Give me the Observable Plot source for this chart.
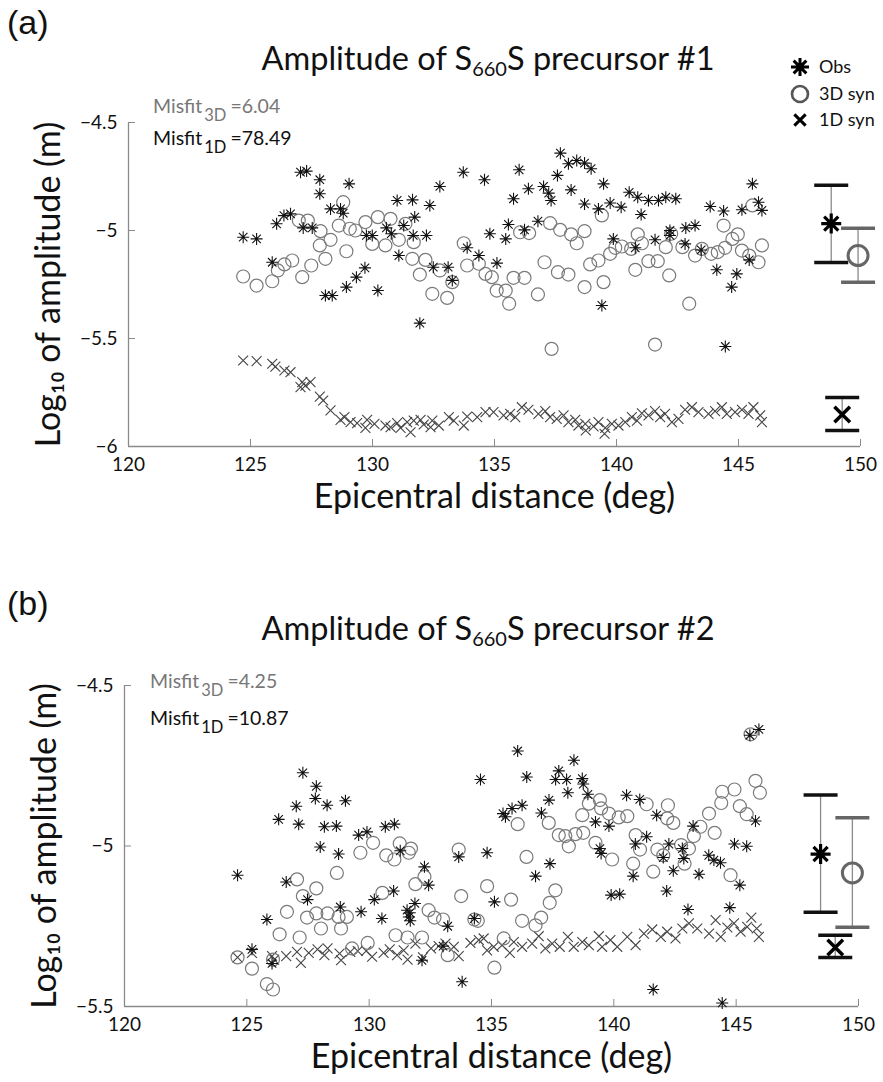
<!DOCTYPE html>
<html><head><meta charset="utf-8">
<script src="https://cdn.jsdelivr.net/npm/d3@7"></script>
<script src="https://cdn.jsdelivr.net/npm/@observablehq/plot@0.6"></script>
<style>
body{margin:0;background:#fff;font-family:Lato,"Open Sans",sans-serif}
#wrap{position:relative;width:883px;height:1082px;overflow:hidden;background:#fff}
#wrap svg{position:absolute;left:0}
</style></head><body><div id="wrap"></div>
<script>
// ---------- Panel (a): precursor #1 ----------
const aObs = [[124.70,-5.031],[125.25,-5.039],[125.89,-5.147],[126.07,-4.969],[126.37,-4.931],[126.64,-4.923],[127.05,-4.730],[127.30,-4.725],[127.84,-4.765],[127.84,-4.830],[127.16,-4.988],[127.53,-4.988],[128.28,-4.900],[128.69,-4.900],[128.80,-4.920],[128.07,-5.301],[128.35,-5.301],[128.93,-5.262],[129.34,-5.216],[129.69,-5.173],[129.04,-4.784],[129.75,-5.023],[129.99,-5.023],[130.22,-5.278],[130.57,-4.988],[130.77,-5.015],[131.01,-4.861],[131.64,-4.858],[131.28,-4.977],[131.73,-4.938],[131.67,-5.023],[132.21,-5.023],[132.35,-4.884],[132.76,-4.796],[131.08,-5.116],[131.94,-5.429],[132.49,-5.170],[133.10,-5.170],[133.27,-5.231],[133.72,-4.730],[133.88,-5.080],[134.36,-5.116],[134.59,-4.765],[134.81,-5.015],
[135.46,-5.039],[135.57,-4.972],[135.10,-5.151],[135.78,-4.853],[136.01,-4.719],[136.23,-4.997],[136.39,-4.807],[136.78,-4.957],[137.01,-4.796],[137.22,-4.827],[137.32,-4.861],[137.58,-4.745],[137.70,-4.642],[138.03,-4.691],[138.37,-4.676],[138.69,-4.688],[138.96,-4.714],[138.14,-4.812],[138.69,-4.877],[139.26,-4.900],[139.47,-4.784],[139.74,-4.873],[140.19,-4.892],[140.52,-4.823],[140.87,-4.846],[141.31,-4.861],[141.72,-4.861],[142.02,-4.846],[142.43,-4.853],[141.01,-4.926],[139.87,-5.039],[139.40,-5.347],[140.77,-5.080],[141.58,-5.043],[142.19,-5.000],[142.19,-5.023],[142.84,-4.988],[143.22,-4.977],[142.81,-5.062],[143.47,-5.090],[143.84,-4.889],[144.39,-4.910],[145.14,-4.904],[145.57,-4.784],[145.82,-4.869],[145.96,-4.907],[144.11,-5.182],[144.72,-5.262],[144.93,-5.201],[145.44,-5.136],[144.46,-5.537]];
const aSyn3D = [[124.70,-5.213],[125.25,-5.255],[125.89,-5.235],[126.12,-5.185],[126.39,-5.157],[126.71,-5.139],[127.12,-5.216],[127.49,-5.162],[128.07,-5.131],[127.84,-5.069],[128.28,-5.043],[128.93,-5.096],[126.98,-4.954],[127.35,-4.954],[127.87,-5.003],[128.62,-4.977],[128.80,-4.869],[129.07,-4.992],[129.30,-5.000],[129.71,-4.961],[129.99,-5.062],[130.22,-4.938],[130.74,-4.946],[130.53,-5.069],[131.08,-5.043],[131.35,-4.969],[131.69,-5.054],[131.63,-5.131],[132.17,-5.136],[131.94,-5.204],[132.45,-5.293],[132.76,-5.185],[133.06,-5.312],[133.27,-5.239],[133.74,-5.059],[133.88,-5.162],[134.36,-5.154],[134.63,-5.201],
[134.89,-5.216],[135.09,-5.278],[135.46,-5.278],[135.60,-5.339],[135.78,-5.219],[136.23,-5.219],[136.05,-5.008],[136.42,-5.012],[136.78,-5.296],[137.05,-5.147],[137.28,-4.966],[137.60,-5.193],[137.69,-4.997],[138.03,-5.204],[138.14,-5.018],[138.37,-5.059],[138.69,-5.003],[138.69,-5.262],[138.92,-5.157],[139.26,-5.139],[139.40,-4.930],[139.47,-5.239],[139.74,-5.108],[139.95,-5.080],[140.22,-5.074],[140.60,-5.085],[140.77,-5.182],[140.87,-5.018],[141.04,-5.059],[141.31,-5.142],[141.69,-5.142],[142.02,-5.077],[142.16,-5.208],[142.24,-5.015],[142.70,-5.077],[142.98,-5.339],[143.22,-5.116],[143.50,-5.085],[143.88,-5.108],[144.15,-5.100],[144.39,-4.977],[144.45,-5.080],[144.75,-5.039],[144.97,-5.018],[145.14,-5.093],[145.44,-5.116],[145.57,-4.884],[145.82,-5.147],[145.96,-5.069],[137.34,-5.548],[141.58,-5.528]];
const aSyn1D = [[124.70,-5.602],[125.25,-5.605],[125.89,-5.617],[126.02,-5.630],[126.39,-5.648],[126.64,-5.656],[127.12,-5.702],[127.25,-5.718],[127.46,-5.702],[127.05,-5.725],[127.84,-5.769],[127.98,-5.787],[128.28,-5.833],[128.69,-5.877],[128.85,-5.864],[129.10,-5.887],[129.37,-5.892],[129.78,-5.877],[129.71,-5.914],[130.08,-5.895],[130.53,-5.903],[130.74,-5.911],[131.01,-5.892],[131.15,-5.914],[131.42,-5.887],[131.56,-5.934],[131.69,-5.880],[131.97,-5.877],[132.10,-5.898],[132.45,-5.880],[132.38,-5.911],[132.72,-5.903],[133.13,-5.864],[133.33,-5.880],[133.74,-5.903],[133.88,-5.861],[134.29,-5.864],[134.63,-5.841],
[134.96,-5.841],[135.37,-5.856],[135.64,-5.849],[135.85,-5.864],[136.12,-5.818],[136.39,-5.830],[136.80,-5.849],[137.08,-5.836],[137.28,-5.864],[137.55,-5.872],[137.83,-5.856],[138.03,-5.887],[138.31,-5.877],[138.44,-5.903],[138.72,-5.895],[138.74,-5.926],[139.06,-5.907],[139.26,-5.887],[139.54,-5.914],[139.51,-5.941],[139.81,-5.895],[140.08,-5.903],[140.36,-5.887],[140.63,-5.864],[140.84,-5.880],[141.04,-5.846],[141.31,-5.856],[141.58,-5.836],[141.79,-5.864],[141.99,-5.849],[142.27,-5.887],[142.54,-5.872],[142.81,-5.830],[143.09,-5.818],[143.36,-5.841],[143.77,-5.849],[144.04,-5.836],[144.32,-5.818],[144.52,-5.849],[144.86,-5.841],[145.14,-5.830],[145.41,-5.849],[145.61,-5.818],[145.89,-5.856],[145.96,-5.887]];
// error bars (a): [x, mean, low, high] for Obs, 3D syn, 1D syn
const aErrObs = [148.8, -4.968, -5.148, -4.790];
const aErr3D  = [149.9, -5.116, -5.240, -4.990];
const aErr1D  = [149.25, -5.852, -5.926, -5.773];

// ---------- Panel (b): precursor #2 ----------
const bObs = [[124.62,-5.091],[125.82,-5.229],[125.21,-5.322],[126.03,-5.366],[126.30,-4.917],[126.61,-5.112],[127.02,-4.876],[127.12,-4.932],[127.29,-4.772],[127.48,-5.167],[127.84,-4.814],[127.80,-4.852],[128.00,-5.003],[128.28,-4.873],[128.17,-4.940],[128.66,-4.938],[128.75,-5.025],[128.82,-5.190],[129.03,-4.859],[129.57,-4.966],[129.91,-4.956],[129.67,-5.205],[130.21,-5.167],[130.52,-5.226],[130.66,-4.940],[131.03,-4.932],[131.00,-5.140],[131.27,-5.015],[131.55,-5.200],[131.62,-5.221],[131.66,-5.208],[131.68,-5.233],[131.87,-5.179],[132.16,-5.356],[132.26,-5.065],[132.43,-5.122],[133.21,-5.250],[133.02,-5.312],[133.66,-5.034],[133.80,-5.423],[134.30,-5.226],[134.55,-4.793],[134.82,-5.021],
[135.12,-5.174],[135.47,-4.899],[135.57,-4.909],[135.84,-4.883],[136.25,-4.873],[136.07,-4.704],[136.44,-4.785],[136.80,-5.094],[137.04,-4.897],[137.35,-4.857],[137.39,-5.055],[137.62,-4.793],[137.75,-4.766],[138.07,-4.793],[138.12,-4.834],[138.37,-4.733],[138.71,-4.790],[138.75,-4.807],[138.94,-4.839],[139.25,-4.925],[139.43,-5.008],[139.48,-5.023],[139.80,-4.938],[139.89,-5.153],[140.24,-5.150],[140.52,-4.842],[140.79,-5.094],[141.06,-4.855],[140.88,-4.994],[141.34,-4.971],[141.61,-5.447],[141.75,-4.904],[142.02,-5.036],[142.16,-5.140],[142.25,-4.994],[142.43,-5.077],[142.80,-5.008],[142.86,-5.039],[143.03,-5.198],[143.24,-4.938],[143.48,-5.088],[143.88,-5.029],[144.09,-5.044],[144.36,-5.052],[144.43,-5.489],[144.74,-5.192],[144.93,-4.994],[145.15,-5.122],[145.43,-5.001],[145.56,-4.655],[145.93,-4.637],[145.79,-4.922]];
const bSyn3D = [[124.62,-5.347],[125.21,-5.382],[125.82,-5.430],[126.07,-5.447],[126.07,-5.354],[126.34,-5.275],[126.64,-5.205],[127.05,-5.104],[127.29,-5.156],[127.16,-5.285],[127.46,-5.223],[127.84,-5.132],[127.84,-5.210],[128.03,-5.257],[128.30,-5.210],[128.68,-5.084],[128.85,-5.257],[128.75,-5.221],[129.09,-5.221],[129.30,-5.319],[129.64,-5.021],[130.16,-4.990],[129.94,-5.302],[130.54,-5.146],[130.70,-5.029],[131.03,-5.042],[131.25,-4.992],[131.62,-5.021],[131.71,-5.008],[131.89,-5.119],[132.26,-5.096],[131.08,-5.278],[131.57,-5.285],[132.16,-5.285],[132.43,-5.200],[132.67,-5.223],[133.02,-5.229],[133.21,-5.340],[133.66,-5.011],[133.76,-5.156],[134.30,-5.229],[134.44,-5.233],[134.82,-5.125],
[135.12,-5.379],[135.50,-5.288],[135.80,-5.167],[136.07,-4.932],[136.25,-5.233],[136.43,-5.034],[136.80,-5.247],[137.03,-5.223],[137.34,-4.928],[137.38,-5.177],[137.61,-5.138],[137.75,-4.966],[138.02,-4.969],[138.16,-5.001],[138.43,-4.963],[138.75,-4.959],[138.71,-4.904],[138.98,-4.868],[139.25,-4.990],[139.43,-4.857],[139.48,-4.883],[139.80,-4.899],[139.93,-5.042],[140.20,-4.911],[140.55,-4.907],[140.79,-5.055],[140.89,-4.966],[141.07,-5.011],[141.34,-4.870],[141.61,-5.080],[141.78,-5.011],[142.02,-5.029],[142.21,-4.873],[142.18,-4.914],[142.43,-4.928],[142.75,-4.997],[142.89,-5.055],[143.07,-5.008],[143.27,-4.969],[143.54,-4.940],[143.89,-4.899],[144.12,-4.959],[144.39,-4.866],[144.43,-4.831],[144.77,-5.091],[144.93,-4.824],[145.15,-4.876],[145.43,-4.901],[145.59,-4.652],[145.79,-4.797],[145.97,-4.834]];
const bSyn1D = [[124.62,-5.347],[125.21,-5.333],[126.03,-5.343],[126.12,-5.354],[126.61,-5.343],[127.05,-5.330],[127.21,-5.364],[127.53,-5.333],[127.89,-5.322],[128.17,-5.340],[128.30,-5.319],[128.79,-5.335],[128.85,-5.356],[129.23,-5.330],[129.53,-5.327],[129.88,-5.327],[130.12,-5.345],[130.59,-5.333],[130.84,-5.322],[131.14,-5.340],[131.41,-5.325],[131.57,-5.354],[131.89,-5.304],[132.20,-5.347],[132.53,-5.319],[132.84,-5.312],[133.12,-5.304],[133.46,-5.314],[133.66,-5.343],[134.14,-5.302],[134.48,-5.293],[134.82,-5.325],
[134.68,-5.288],[135.09,-5.314],[135.43,-5.309],[135.75,-5.333],[135.91,-5.299],[136.25,-5.314],[136.66,-5.304],[136.93,-5.281],[137.20,-5.319],[137.48,-5.304],[137.79,-5.314],[138.12,-5.283],[138.36,-5.314],[138.71,-5.299],[138.98,-5.309],[139.39,-5.281],[139.52,-5.314],[139.86,-5.293],[140.14,-5.314],[140.55,-5.283],[140.89,-5.309],[141.23,-5.273],[141.57,-5.260],[141.92,-5.283],[142.18,-5.267],[142.52,-5.288],[142.80,-5.257],[143.07,-5.241],[143.41,-5.257],[143.89,-5.273],[144.16,-5.231],[144.37,-5.283],[144.64,-5.254],[144.91,-5.241],[145.18,-5.267],[145.45,-5.252],[145.62,-5.223],[145.84,-5.257],[145.93,-5.283]];
const bErrObs = [148.45, -5.025, -5.206, -4.841];
const bErr3D  = [149.75, -5.084, -5.253, -4.912];
const bErr1D  = [149.05, -5.316, -5.347, -5.278];

// ---------- labels / ticks ----------
const xTicks = [120, 125, 130, 135, 140, 145, 150];
const aYTicks = [-6, -5.5, -5, -4.5];
const bYTicks = [-5.5, -5, -4.5];
const xLabel = "Epicentral distance (deg)";
const yLabel = "Log\u2081\u2080 of amplitude (m)";
const legendLabels = ["Obs", "3D syn", "1D syn"];
const aMisfit = ["6.04", "78.49"];
const bMisfit = ["4.25", "10.87"];

// ---------- symbols ----------
const star8 = {draw(ctx, size){const r=Math.sqrt(size/Math.PI), d=r*Math.SQRT1_2;
  ctx.moveTo(0,-r);ctx.lineTo(0,r);ctx.moveTo(-r,0);ctx.lineTo(r,0);
  ctx.moveTo(-d,-d);ctx.lineTo(d,d);ctx.moveTo(-d,d);ctx.lineTo(d,-d);}};
const cross = {draw(ctx, size){const r=Math.sqrt(size/Math.PI)*Math.SQRT1_2;
  ctx.moveTo(-r,-r);ctx.lineTo(r,r);ctx.moveTo(-r,r);ctx.lineTo(r,-r);}};
const hbar = {draw(ctx, size){const r=Math.sqrt(size/Math.PI); ctx.moveTo(-r,0);ctx.lineTo(r,0);}};

const toXY = arr => arr.map(([x,y]) => ({x, y}));
const toErr = e => [{x:e[0], mid:e[1], lo:e[2], hi:e[3]}];
const fmt = d => (d < 0 ? "\u2212" : "") + Math.abs(d);

function errMarks(e, capColor, centerMark) {
  const d = toErr(e);
  return [
    Plot.ruleX(d, {x:"x", y1:"lo", y2:"hi", stroke:"#8a8a8a", strokeWidth:1.3}),
    Plot.dot(d, {x:"x", y:"lo", symbol:hbar, r:17, stroke:capColor, strokeWidth:3.5, fill:"none"}),
    Plot.dot(d, {x:"x", y:"hi", symbol:hbar, r:17, stroke:capColor, strokeWidth:3.5, fill:"none"}),
    centerMark(d)
  ];
}

function panel(o) {
  return Plot.plot({
    width: 883, height: o.height,
    marginTop: o.mt, marginBottom: o.mb, marginLeft: o.ml, marginRight: o.mr,
    x: {domain: [120, 150]},
    y: {domain: o.yDomain},
    style: {fontFamily: "Lato, 'Open Sans', sans-serif", background: "transparent", overflow: "visible"},
    marks: [
      Plot.ruleX([120], {stroke:"#8a8a8a", strokeWidth:1.3}),
      Plot.ruleY([o.yDomain[0]], {stroke:"#8a8a8a", strokeWidth:1.3}),
      Plot.axisX({ticks: xTicks, tickSize: -7, tickPadding: 18, stroke: "#8a8a8a", fill: "#111", fontSize: 19, label: null}),
      Plot.axisY({ticks: o.yTicks, tickSize: -7, tickPadding: 18, stroke: "#8a8a8a", fill: "#111", fontSize: 19, label: null, tickFormat: fmt}),
      Plot.text([xLabel], {frameAnchor: "bottom", lineAnchor: "middle", dy: 51, fontSize: 34, fill: "#111"}),
      Plot.text([yLabel], {frameAnchor: "left", textAnchor: "middle", lineAnchor: "middle", dx: -79, rotate: -90, fontSize: 34, fill: "#111"}),
      Plot.dot(toXY(o.syn1), {x:"x", y:"y", symbol: cross, r: 7, stroke: "#444", strokeWidth: 1.1, fill: "none"}),
      Plot.dot(toXY(o.syn3), {x:"x", y:"y", symbol: "circle", r: 6.5, stroke: "#7a7a7a", strokeWidth: 1.2, fill: "none"}),
      Plot.dot(toXY(o.obs), {x:"x", y:"y", symbol: star8, r: 6, stroke: "#111", strokeWidth: 1.1, fill: "none"}),
      ...errMarks(o.eObs, "#111", d => Plot.dot(d, {x:"x", y:"mid", symbol: star8, r: 10, stroke: "#000", strokeWidth: 3.2, fill: "none"})),
      ...errMarks(o.e3, "#666", d => Plot.dot(d, {x:"x", y:"mid", symbol: "circle", r: 10, stroke: "#666", strokeWidth: 3, fill: "none"})),
      ...errMarks(o.e1, "#111", d => Plot.dot(d, {x:"x", y:"mid", symbol: cross, r: 11, stroke: "#000", strokeWidth: 3.5, fill: "none"}))
    ]
  });
}

const wrap = document.getElementById("wrap");
const svgA = panel({height:530, mt:122, mb:84, ml:128, mr:23, yDomain:[-6,-4.5], yTicks:aYTicks,
  obs:aObs, syn3:aSyn3D, syn1:aSyn1D, eObs:aErrObs, e3:aErr3D, e1:aErr1D});
svgA.style.top = "0px";
wrap.appendChild(svgA);
const svgB = panel({height:552, mt:155, mb:76, ml:124, mr:25, yDomain:[-5.5,-4.5], yTicks:bYTicks,
  obs:bObs, syn3:bSyn3D, syn1:bSyn1D, eObs:bErrObs, e3:bErr3D, e1:bErr1D});
svgB.style.top = "530px";
wrap.appendChild(svgB);

// ---------- overlay: panel letters, titles, misfits, legend ----------
const ov = d3.select(wrap).append("svg").attr("width", 883).attr("height", 1082)
  .style("top", "0px").style("pointer-events", "none")
  .attr("font-family", "Lato, 'Open Sans', sans-serif");

function title(y, num) {
  const t = ov.append("text").attr("x", 488).attr("y", y).attr("text-anchor", "middle")
    .attr("font-size", 32.5).attr("fill", "#111");
  t.append("tspan").text("Amplitude of S");
  t.append("tspan").attr("font-size", 20).attr("dy", 6).text("660");
  t.append("tspan").attr("dy", -6).text("S precursor #" + num);
}
function misfit(x, y, sub, val, color) {
  const t = ov.append("text").attr("x", x).attr("y", y).attr("font-size", 19.5).attr("fill", color);
  t.append("tspan").text("Misfit");
  t.append("tspan").attr("font-size", 16.5).attr("dy", 8).attr("dx", 2).text(sub);
  t.append("tspan").attr("dy", -8).attr("dx", 4).text("=" + val);
}
ov.append("text").attr("x", 7).attr("y", 34).attr("font-size", 34).attr("fill", "#111")
  .attr("font-family", "'Liberation Sans', Arial, sans-serif").text("(a)");
ov.append("text").attr("x", 7).attr("y", 615).attr("font-size", 34).attr("fill", "#111")
  .attr("font-family", "'Liberation Sans', Arial, sans-serif").text("(b)");
title(70, 1);
title(640, 2);
misfit(153, 113, "3D", aMisfit[0], "#777");
misfit(153, 145, "1D", aMisfit[1], "#111");
misfit(150, 688, "3D", bMisfit[0], "#777");
misfit(150, 725, "1D", bMisfit[1], "#111");

// legend
const legY = [67, 94, 120];
const legSym = [
  {sym: star8, size: Math.PI*81, stroke: "#000", sw: 3},
  {sym: d3.symbolCircle, size: Math.PI*64, stroke: "#555", sw: 2.6},
  {sym: cross, size: Math.PI*64, stroke: "#000", sw: 3}
];
legSym.forEach((s, i) => {
  ov.append("path").attr("transform", `translate(800,${legY[i]})`)
    .attr("d", d3.symbol(s.sym, s.size)()).attr("fill", "none")
    .attr("stroke", s.stroke).attr("stroke-width", s.sw);
  ov.append("text").attr("x", 819).attr("y", legY[i] + 6).attr("font-size", 18).attr("fill", "#111").text(legendLabels[i]);
});
</script></body></html>
